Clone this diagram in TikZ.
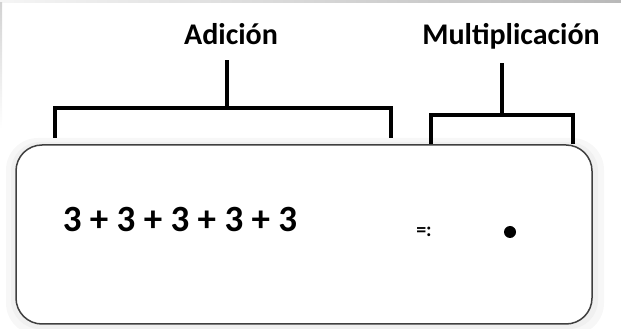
\documentclass[tikz,border=0pt]{standalone}
\usepackage{fontspec}
\setmainfont{Carlito}
\usetikzlibrary{positioning}

\begin{document}
\begin{tikzpicture}[x=1pt,y=1pt,
    bracket/.style={line width=4.5pt},
    label/.style={font=\fontsize{30}{30}\selectfont\bfseries, inner sep=0pt},
    box/.style={draw=black!75, line width=1.5pt, rounded corners=26pt, fill=white, minimum width=576pt, minimum height=179pt},
    ]
    \useasboundingbox (0,0) rectangle (621,329);
    \shade[left color=gray!8, right color=gray!55] (0,326) rectangle (621,329);
    \shade[top color=gray!35, bottom color=white] (0,200) rectangle (2,326);
    \fill[gray!6, rounded corners=32pt] (6,-6) rectangle (604,191);
    \fill[gray!12, rounded corners=29pt] (11,0) rectangle (598,187);

    \node[box] (box) at (304,94.5) {};

    \coordinate (a1) at (55,191);
    \coordinate[above=30pt of a1] (a2);
    \coordinate[right=336pt of a2] (a3);
    \coordinate[below=30pt of a3] (a4);
    \coordinate[right=172pt of a2] (a5);
    \coordinate[above=48pt of a5] (a6);
    \node[label, above=15pt of a6, anchor=base, xshift=4pt] (adicion) {Adición};

    \coordinate (b1) at (431,185);
    \coordinate[above=29pt of b1] (b2);
    \coordinate[right=142pt of b2] (b3);
    \coordinate[below=29pt of b3] (b4);
    \coordinate[right=71pt of b2] (b5);
    \coordinate[above=52pt of b5] (b6);
    \node[label, above=18pt of b6, anchor=base, xshift=9pt] (multi) {Multiplicación};

    \draw[bracket] (a1) -- (a2) -- (a3) -- (a4);
    \draw[bracket] (a5) -- (a6);
    \draw[bracket] (b1) -- (b2) -- (b3) -- (b4);
    \draw[bracket] (b5) -- (b6);

    \node[font=\fontsize{37}{37}\selectfont\bfseries, anchor=base, inner sep=0pt] (sum) at (180,97) {3 + 3 + 3 + 3 + 3};
    \node[font=\fontsize{20}{20}\selectfont\bfseries, inner sep=0pt] (eq) at (424,97) {=:};
    \node[circle, fill, inner sep=0pt, minimum size=12pt] (dot) at (510,97) {};
\end{tikzpicture}
\end{document}
